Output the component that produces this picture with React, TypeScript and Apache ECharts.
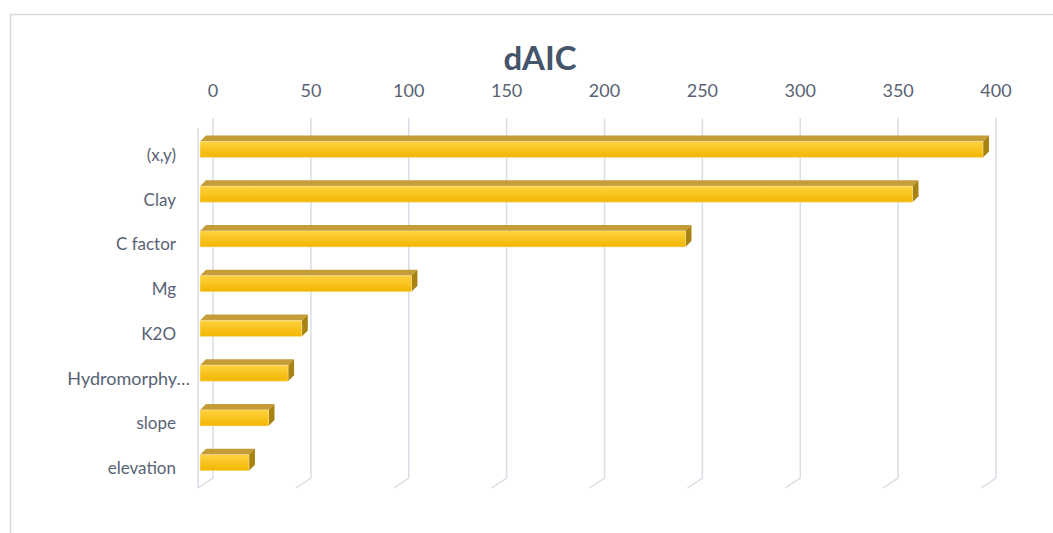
import React, { useEffect, useRef } from "react";
import * as echarts from "echarts";

const categories = ["(x,y)", "Clay", "C factor", "Mg", "K2O", "Hydromorphy…", "slope", "elevation"];
const dAIC = [400, 364, 248, 108, 52, 45, 35, 25];
const gridTicks = [0, 50, 100, 150, 200, 250, 300, 350, 400];
const titleText = "dAIC";

const FONT = "Lato, 'Open Sans', sans-serif";
const TEXT = "#586274";
const GRID = "#d9dde5";

export default function App() {
  const ref = useRef<HTMLDivElement>(null);
  useEffect(() => {
    if (!ref.current) return;
    const chart = echarts.init(ref.current, null, { renderer: "svg" });
    const depth = 6;
    const wallDx = -15;
    const wallDy = 10;
    chart.setOption({
      animation: false,
      backgroundColor: "#ffffff",
      graphic: [
        {
          type: "rect",
          shape: { x: 10.5, y: 14.5, width: 1100, height: 600 },
          style: { fill: "none", stroke: "#d9d9d9", lineWidth: 1.5 },
          silent: true,
        },
        {
          type: "text",
          x: 540,
          y: 57,
          style: {
            text: titleText,
            align: "center",
            verticalAlign: "middle",
            fontFamily: FONT,
            fontWeight: "bold",
            fontSize: 33,
            fill: "#44546a",
          },
        },
      ],
      grid: [
        { left: 213, right: 57, top: 118, bottom: 55 },
        { left: 200, right: 70, top: 132, bottom: 43 },
      ],
      xAxis: [
        {
          gridIndex: 0,
          type: "value",
          position: "top",
          min: 0,
          max: 400,
          interval: 50,
          axisLine: { show: false },
          axisTick: { show: false },
          splitLine: { show: false },
          axisLabel: { fontSize: 18, color: TEXT, fontFamily: FONT, margin: 19 },
        },
        { gridIndex: 1, type: "value", min: 0, max: 400, show: false },
      ],
      yAxis: [
        { gridIndex: 0, type: "value", min: 0, max: 1, show: false },
        {
          gridIndex: 1,
          type: "category",
          inverse: true,
          data: categories.map((c) =>
            c.startsWith("Hydromorphy")
              ? { value: c, textStyle: { padding: [0, -14, 0, 0], fontSize: 18 } }
              : c
          ),
          axisLine: { show: false },
          axisTick: { show: false },
          splitLine: { show: false },
          axisLabel: { fontSize: 17, color: TEXT, fontFamily: FONT, margin: 24 },
        },
      ],
      series: [
        {
          type: "custom",
          xAxisIndex: 0,
          yAxisIndex: 0,
          silent: true,
          data: gridTicks.map((v) => [v]),
          encode: { x: 0 },
          renderItem: (params: any, api: any) => {
            const v = api.value(0);
            const top = api.coord([v, 1]);
            const bot = api.coord([v, 0]);
            const x = top[0];
            const children: any[] = [
              {
                type: "polyline",
                shape: {
                  points: [
                    [x, top[1]],
                    [x, bot[1]],
                    [x + wallDx, bot[1] + wallDy],
                  ],
                },
                style: { fill: "none", stroke: GRID, lineWidth: 1.5 },
              },
            ];
            if (v === 0) {
              children.push({
                type: "line",
                shape: {
                  x1: x + wallDx,
                  y1: top[1] + wallDy,
                  x2: x + wallDx,
                  y2: bot[1] + wallDy,
                },
                style: { stroke: GRID, lineWidth: 1.5 },
              });
            }
            return { type: "group", children };
          },
          z: 1,
        },
        {
          type: "custom",
          xAxisIndex: 1,
          yAxisIndex: 1,
          data: dAIC.map((v, i) => [v, i]),
          encode: { x: 0, y: 1 },
          renderItem: (params: any, api: any) => {
            const v = api.value(0);
            const i = api.value(1);
            const p0 = api.coord([0, i]);
            const p1 = api.coord([v, i]);
            const x0 = p0[0];
            const x1 = p1[0];
            const yc = p0[1] - 5;
            const h = 16;
            const y0 = yc - h / 2;
            const y1 = yc + h / 2;
            return {
              type: "group",
              children: [
                {
                  type: "polygon",
                  shape: {
                    points: [
                      [x0, y0],
                      [x0 + depth, y0 - depth],
                      [x1 + depth, y0 - depth],
                      [x1, y0],
                    ],
                  },
                  style: { fill: "#c49c38" },
                },
                {
                  type: "polygon",
                  shape: {
                    points: [
                      [x1, y0],
                      [x1 + depth, y0 - depth],
                      [x1 + depth, y1 - depth],
                      [x1, y1],
                    ],
                  },
                  style: { fill: "#a8830f" },
                },
                {
                  type: "rect",
                  shape: { x: x0, y: y0, width: x1 - x0, height: h },
                  style: {
                    fill: new echarts.graphic.LinearGradient(0, 0, 0, 1, [
                      { offset: 0, color: "#ffd23f" },
                      { offset: 1, color: "#f2b600" },
                    ]),
                    stroke: "#f7e3a0",
                    lineWidth: 0.6,
                  },
                },
              ],
            };
          },
          z: 2,
        },
      ],
    });
    return () => chart.dispose();
  }, []);
  return (
    <div
      ref={ref}
      style={{ position: "fixed", left: 0, top: 0, width: 1053, height: 533 }}
    />
  );
}
